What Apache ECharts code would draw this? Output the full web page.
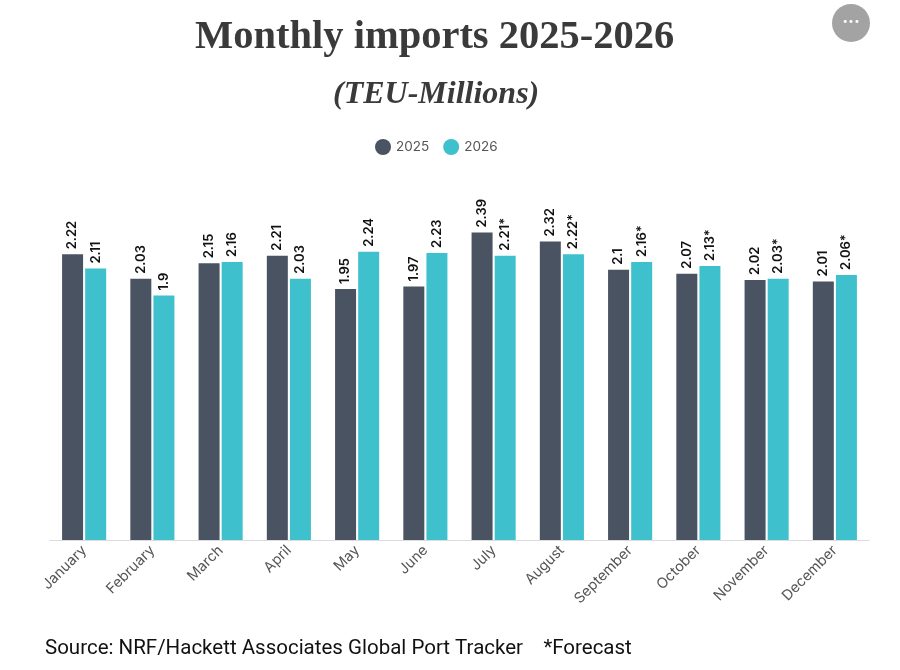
<!DOCTYPE html>
<html lang="en">

<head>
    <meta charset="UTF-8">
    <title>Monthly imports 2025-2026</title>
    <script type="text/javascript" src="https://cdn.jsdelivr.net/npm/echarts@6/dist/echarts.min.js"></script>
    <style>
        html, body {
            margin: 0;
            padding: 0;
            background: #fff;
        }

        #main {
            width: 900px;
            height: 670px;
        }
    </style>
</head>

<body>
    <div id="main"></div>

    <script type="text/javascript">
        // data
        var months = ['January', 'February', 'March', 'April', 'May', 'June',
            'July', 'August', 'September', 'October', 'November', 'December'];
        var imports2025 = [2.22, 2.03, 2.15, 2.21, 1.95, 1.97, 2.39, 2.32, 2.1, 2.07, 2.02, 2.01];
        var imports2026 = [2.11, 1.9, 2.16, 2.03, 2.24, 2.23, 2.21, 2.22, 2.16, 2.13, 2.03, 2.06];
        // months from July on are forecast values
        var forecast2026 = [false, false, false, false, false, false, true, true, true, true, true, true];

        var myChart = echarts.init(document.getElementById('main'));

        var barLabel = {
            show: true,
            position: 'top',
            rotate: 90,
            align: 'left',
            verticalAlign: 'middle',
            distance: 5,
            color: '#111',
            fontFamily: 'Inter',
            fontWeight: 600,
            fontSize: 13
        };

        var option = {
            backgroundColor: '#fff',
            title: [{
                text: 'Monthly imports 2025-2026',
                left: 195,
                top: 17,
                padding: 0,
                textStyle: {
                    fontFamily: 'Liberation Serif',
                    fontWeight: 'bold',
                    fontSize: 40.5,
                    color: '#3a3a3a'
                }
            }, {
                text: '(TEU-Millions)',
                left: 333,
                top: 79,
                padding: 0,
                textStyle: {
                    fontFamily: 'Liberation Serif',
                    fontStyle: 'italic',
                    fontWeight: 'bold',
                    fontSize: 32,
                    color: '#3a3a3a'
                }
            }],
            legend: {
                data: ['2025', '2026'],
                top: 134,
                left: 370,
                icon: 'circle',
                itemWidth: 16,
                itemHeight: 16,
                itemGap: 14,
                textStyle: {
                    fontFamily: 'Inter',
                    fontSize: 13.5,
                    color: '#555'
                }
            },
            grid: {
                left: 50,
                right: 31,
                top: 154,
                bottom: 130
            },
            xAxis: {
                type: 'category',
                data: months,
                axisLine: {
                    show: true,
                    lineStyle: {
                        color: '#dcdcdc',
                        width: 1
                    }
                },
                axisTick: {
                    show: false
                },
                axisLabel: {
                    interval: 0,
                    rotate: 45,
                    margin: 8,
                    fontFamily: 'Inter',
                    fontSize: 14.5,
                    color: '#555'
                }
            },
            yAxis: {
                type: 'value',
                min: 0,
                max: 3,
                show: false,
                splitLine: {
                    show: false
                }
            },
            series: [{
                name: '2025',
                type: 'bar',
                data: imports2025,
                barWidth: 21,
                barGap: '10%',
                itemStyle: {
                    color: '#4a5361'
                },
                label: barLabel
            }, {
                name: '2026',
                type: 'bar',
                data: imports2026,
                barWidth: 21,
                itemStyle: {
                    color: '#3ec1cd'
                },
                label: Object.assign({}, barLabel, {
                    formatter: function (p) {
                        return p.value + (forecast2026[p.dataIndex] ? '*' : '');
                    }
                })
            }],
            graphic: [{
                type: 'circle',
                shape: { cx: 851, cy: 23, r: 19 },
                style: { fill: '#a3a3a3' }
            }, {
                type: 'text',
                x: 851,
                y: 22,
                style: {
                    text: '•••',
                    fill: '#fff',
                    fontSize: 10,
                    fontFamily: 'DejaVu Sans',
                    align: 'center',
                    verticalAlign: 'middle'
                }
            }, {
                type: 'text',
                left: 45,
                top: 638,
                style: {
                    text: 'Source: NRF/Hackett Associates Global Port Tracker    *Forecast',
                    fill: '#111',
                    fontFamily: 'Roboto',
                    fontSize: 20.5
                }
            }]
        };

        myChart.setOption(option);
        window.addEventListener('resize', function () {
            myChart.resize();
        });
    </script>
</body>

</html>
